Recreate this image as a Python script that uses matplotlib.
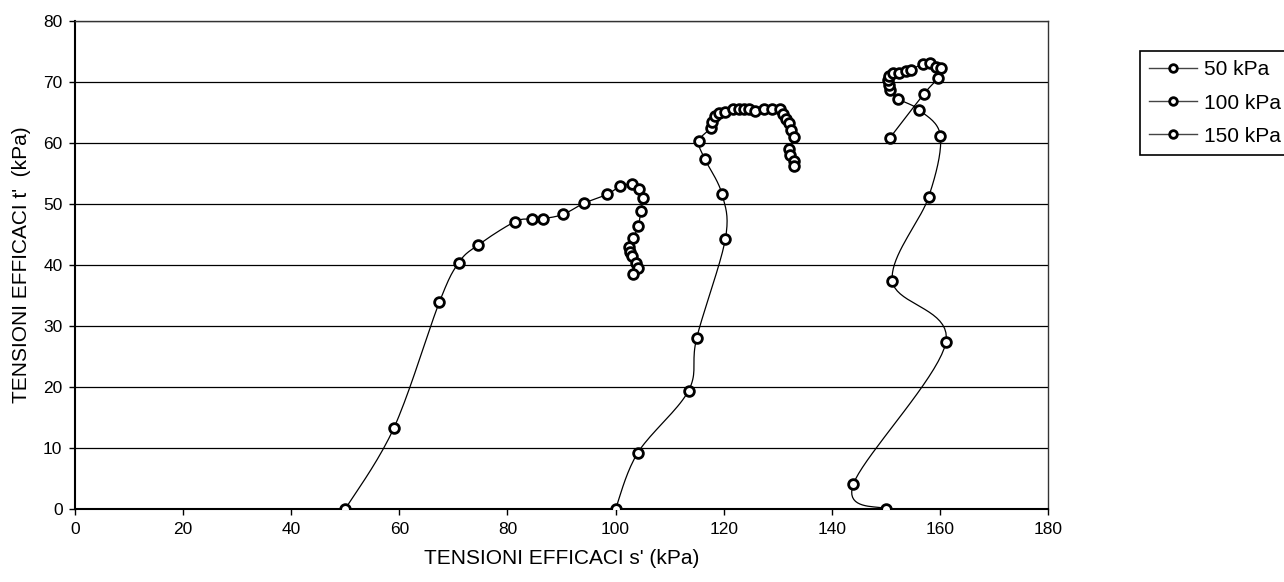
import numpy as np
import matplotlib
matplotlib.use("Agg")
import matplotlib.pyplot as plt

plt.rcParams['font.family'] = ['Liberation Sans', 'DejaVu Sans']

# ---- data ----
labels = ["50 kPa", "100 kPa", "150 kPa"]

s_50 = [50.0, 59.0, 67.4, 71.0, 74.6, 81.4, 84.5, 86.6, 90.3, 94.1, 98.5, 100.8,
        103.0, 104.4, 105.0, 104.7, 104.2, 103.3, 102.5, 102.6, 103.1, 103.8, 104.2, 103.2]
t_50 = [0.0, 13.3, 33.9, 40.4, 43.3, 47.1, 47.5, 47.6, 48.3, 50.1, 51.6, 52.9,
        53.2, 52.5, 51.0, 48.9, 46.4, 44.5, 42.9, 42.2, 41.4, 40.3, 39.5, 38.5]

s_100 = [100.0, 104.1, 113.5, 115.0, 120.3, 119.7, 116.5, 115.4, 117.7, 117.9, 118.4,
         119.1, 120.2, 121.8, 122.9, 123.8, 124.7, 125.8, 127.4, 128.9, 130.4, 131.0,
         131.5, 132.0, 132.5, 133.0, 132.1, 132.3, 133.0, 133.1]
t_100 = [0.0, 9.2, 19.4, 28.0, 44.2, 51.6, 57.4, 60.3, 62.5, 63.5, 64.4,
         64.9, 65.0, 65.5, 65.5, 65.6, 65.6, 65.2, 65.5, 65.5, 65.5, 64.8,
         64.0, 63.2, 62.2, 61.0, 59.0, 58.0, 57.0, 56.3]

s_150 = [150.0, 144.0, 161.1, 151.2, 157.9, 160.1, 156.2, 152.3, 150.7, 150.5, 150.4,
         150.5, 151.3, 152.4, 153.7, 154.7, 156.8, 158.2, 159.2, 160.2, 159.6, 157.1, 150.8]
t_150 = [0.0, 4.1, 27.3, 37.4, 51.1, 61.1, 65.4, 67.2, 68.7, 69.5, 70.3,
         71.0, 71.4, 71.5, 71.8, 72.0, 73.0, 73.1, 72.5, 72.3, 70.6, 68.1, 60.9]

x_ticks = [0, 20, 40, 60, 80, 100, 120, 140, 160, 180]
y_ticks = [0, 10, 20, 30, 40, 50, 60, 70, 80]
x_label = "TENSIONI EFFICACI s' (kPa)"
y_label = "TENSIONI EFFICACI t'  (kPa)"


def smooth_path(x, y, n=20):
    """Excel-like smoothed line (Catmull-Rom via cubic Bezier) through the points."""
    x = np.asarray(x, float)
    y = np.asarray(y, float)
    P = np.column_stack([x, y])
    out = [P[0]]
    m = len(P)
    for i in range(m - 1):
        p0 = P[i - 1] if i > 0 else P[i]
        p1 = P[i]
        p2 = P[i + 1]
        p3 = P[i + 2] if i + 2 < m else P[i + 1]
        c1 = p1 + (p2 - p0) / 6.0
        c2 = p2 - (p3 - p1) / 6.0
        tt = np.linspace(0, 1, n)[1:, None]
        seg = ((1 - tt) ** 3) * p1 + 3 * ((1 - tt) ** 2) * tt * c1 + 3 * (1 - tt) * tt ** 2 * c2 + tt ** 3 * p2
        out.extend(seg)
    out = np.array(out)
    return out[:, 0], out[:, 1]


fig = plt.figure(figsize=(12.84, 5.82), dpi=100)
ax = fig.add_axes([75 / 1284, 1 - 509 / 582, (1048 - 75) / 1284, (509 - 21) / 582])

series = [(s_50, t_50), (s_100, t_100), (s_150, t_150)]
handles = []
for (sx, ty), lab in zip(series, labels):
    xs, ys = smooth_path(sx, ty)
    ax.plot(xs, ys, color='black', lw=0.9, zorder=3)
    ax.plot(sx, ty, ls='none', marker='o', ms=7, mfc='white', mec='black', mew=2.0, zorder=4)
    h, = ax.plot([], [], color='#444444', lw=1.0, marker='o', ms=5.5, mfc='white',
                 mec='black', mew=2.0, label=lab)
    handles.append(h)

ax.set_xlim(0, 180)
ax.set_ylim(0, 80)
ax.set_xticks(x_ticks)
ax.set_yticks(y_ticks)
ax.yaxis.grid(True, color='black', lw=0.9)
ax.set_axisbelow(True)
for sp in ['top', 'right']:
    ax.spines[sp].set_color('#333333')
    ax.spines[sp].set_linewidth(1.0)
for sp in ['left', 'bottom']:
    ax.spines[sp].set_color('black')
    ax.spines[sp].set_linewidth(1.5)
ax.tick_params(axis='both', direction='out', length=4, width=1, labelsize=12.5,
               colors='black', pad=5)
ax.set_xlabel(x_label, fontsize=15, labelpad=9)
ax.set_ylabel(y_label, fontsize=15, labelpad=9)

leg = fig.legend(handles=handles, labels=labels, loc='upper left',
                 bbox_to_anchor=(1140 / 1284, 1 - 51 / 582), fontsize=15,
                 frameon=True, fancybox=False, edgecolor='black', framealpha=1,
                 borderpad=0.45, labelspacing=0.68, handlelength=2.3, handletextpad=0.3,
                 borderaxespad=0)
leg.get_frame().set_linewidth(1.2)

fig.savefig('out.png', dpi=100, facecolor='white')
